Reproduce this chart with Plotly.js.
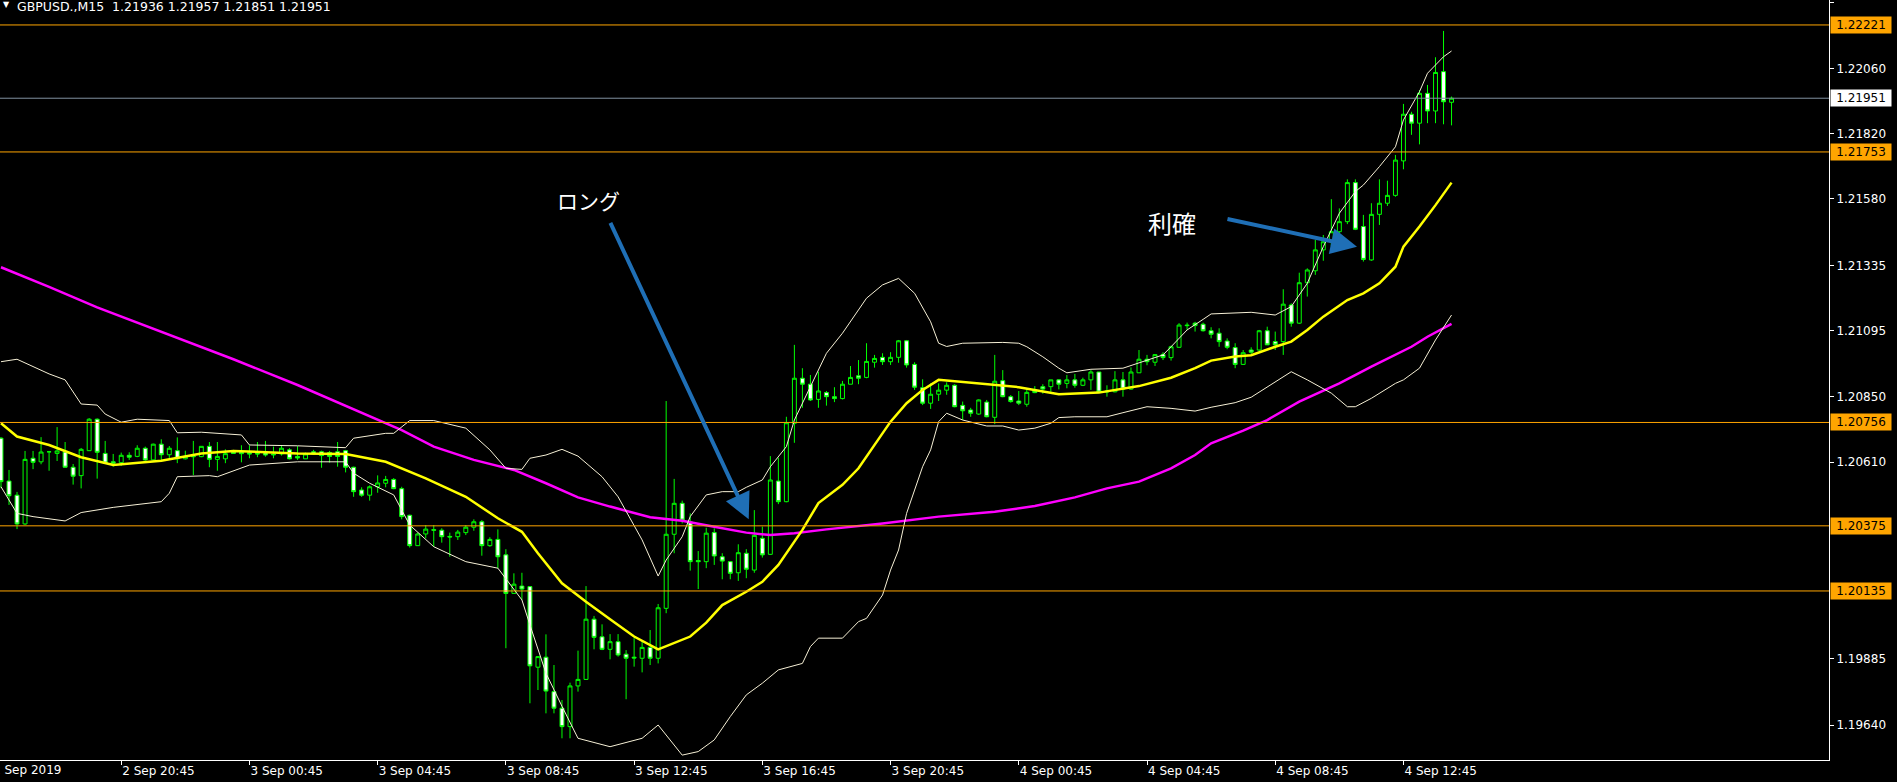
<!DOCTYPE html>
<html>
<head>
<meta charset="utf-8">
<script src="https://cdn.plot.ly/plotly-3.0.1.min.js"></script>
<style>html,body{margin:0;padding:0;background:#000;}#chart{width:1897px;height:782px;}</style>
</head>
<body>
<div id="chart"></div>
<script>
// ---- Candle data (GBPUSD M15, bar 0 = 2 Sep 17:00) ----
const open = [1.20698,1.20540,1.20488,1.20382,1.20624,1.20611,1.20648,1.20642,1.20647,1.20591,
1.20560,1.20652,1.20768,1.20642,1.20611,1.20608,1.20635,1.20631,1.20661,1.20618,
1.20676,1.20637,1.20652,1.20622,1.20632,1.20630,1.20668,1.20620,1.20622,1.20651,
1.20646,1.20644,1.20642,1.20644,1.20640,1.20640,1.20655,1.20631,1.20622,1.20648,
1.20648,1.20645,1.20648,1.20652,1.20591,1.20507,1.20488,1.20519,1.20532,1.20546,
1.20512,1.20414,1.20302,1.20345,1.20361,1.20359,1.20336,1.20335,1.20350,1.20370,
1.20390,1.20302,1.20325,1.20268,1.20126,1.20153,1.20151,1.19854,1.19891,1.19764,
1.19703,1.19635,1.19785,1.19809,1.20031,1.19966,1.19920,1.19948,1.19902,1.19891,
1.19887,1.19927,1.19887,1.20071,1.20344,1.20458,1.20390,1.20247,1.20243,1.20350,
1.20261,1.20243,1.20202,1.20274,1.20212,1.20329,1.20270,1.20540,1.20464,1.20753,
1.20919,1.20897,1.20841,1.20866,1.20851,1.20844,1.20897,1.20928,1.20922,1.20978,
1.20996,1.20980,1.20996,1.21057,1.20970,1.20884,1.20827,1.20860,1.20875,1.20893,
1.20819,1.20802,1.20787,1.20831,1.20775,1.20910,1.20851,1.20835,1.20823,1.20876,
1.20888,1.20888,1.20913,1.20900,1.20913,1.20893,1.20913,1.20942,1.20872,1.20869,
1.20913,1.20879,1.20939,1.20989,1.20978,1.21007,1.20995,1.21033,1.21115,1.21122,
1.21118,1.21094,1.21085,1.21056,1.21032,1.20970,1.21023,1.21023,1.21094,1.21054,
1.21054,1.21189,1.21122,1.21271,1.21315,1.21392,1.21422,1.21459,1.21496,1.21640,
1.21478,1.21355,1.21523,1.21564,1.21593,1.21720,1.21892,1.21859,1.21969,1.21904,
1.22049,1.21936];
const high = [1.20702,1.20581,1.20500,1.20651,1.20651,1.20702,1.20651,1.20739,1.20684,1.20603,
1.20662,1.20772,1.20771,1.20688,1.20640,1.20645,1.20646,1.20672,1.20667,1.20678,
1.20694,1.20669,1.20701,1.20652,1.20688,1.20668,1.20684,1.20684,1.20657,1.20655,
1.20672,1.20672,1.20684,1.20688,1.20667,1.20672,1.20661,1.20669,1.20645,1.20655,
1.20652,1.20651,1.20684,1.20655,1.20593,1.20517,1.20524,1.20561,1.20559,1.20551,
1.20519,1.20416,1.20350,1.20378,1.20378,1.20366,1.20350,1.20360,1.20378,1.20399,
1.20396,1.20333,1.20362,1.20289,1.20200,1.20202,1.20153,1.19895,1.19975,1.19862,
1.19733,1.19797,1.19915,1.20153,1.20043,1.20012,1.19976,1.19976,1.19917,1.19961,
1.19954,1.19991,1.20087,1.20835,1.20548,1.20468,1.20421,1.20282,1.20368,1.20366,
1.20274,1.20245,1.20307,1.20289,1.20433,1.20372,1.20632,1.20626,1.20777,1.21042,
1.20956,1.20931,1.20943,1.20872,1.20886,1.20909,1.20964,1.20986,1.21048,1.21005,
1.21011,1.21015,1.21060,1.21060,1.20978,1.20915,1.20900,1.20900,1.20904,1.20897,
1.20833,1.20810,1.20841,1.20839,1.21005,1.20949,1.20857,1.20872,1.20882,1.20890,
1.20897,1.20913,1.20915,1.20931,1.20935,1.20921,1.20949,1.20942,1.20893,1.20945,
1.20942,1.20959,1.21023,1.21005,1.21008,1.21015,1.21039,1.21122,1.21124,1.21127,
1.21124,1.21107,1.21103,1.21066,1.21048,1.21023,1.21033,1.21097,1.21109,1.21091,
1.21247,1.21195,1.21308,1.21324,1.21429,1.21447,1.21579,1.21545,1.21652,1.21652,
1.21521,1.21564,1.21652,1.21647,1.21742,1.21930,1.21901,1.21981,1.22000,1.22102,
1.22199,1.21957];
const low = [1.20514,1.20452,1.20363,1.20378,1.20584,1.20602,1.20578,1.20614,1.20591,1.20527,
1.20513,1.20652,1.20549,1.20606,1.20593,1.20596,1.20618,1.20628,1.20615,1.20615,
1.20618,1.20618,1.20606,1.20620,1.20562,1.20628,1.20591,1.20578,1.20606,1.20640,
1.20609,1.20624,1.20628,1.20630,1.20624,1.20634,1.20620,1.20618,1.20622,1.20637,
1.20589,1.20608,1.20593,1.20572,1.20482,1.20482,1.20468,1.20497,1.20517,1.20510,
1.20399,1.20295,1.20302,1.20329,1.20298,1.20313,1.20261,1.20323,1.20341,1.20357,
1.20265,1.20298,1.20219,1.19924,1.20126,1.20102,1.19721,1.19770,1.19684,1.19684,
1.19592,1.19592,1.19764,1.19807,1.19920,1.19917,1.19883,1.19893,1.19736,1.19856,
1.19835,1.19862,1.19868,1.20053,1.20274,1.20384,1.20210,1.20142,1.20219,1.20231,
1.20178,1.20178,1.20172,1.20182,1.20202,1.20258,1.20268,1.20455,1.20462,1.20681,
1.20810,1.20835,1.20810,1.20818,1.20831,1.20841,1.20897,1.20897,1.20919,1.20958,
1.20968,1.20968,1.20976,1.20958,1.20876,1.20820,1.20806,1.20835,1.20858,1.20812,
1.20765,1.20777,1.20784,1.20775,1.20750,1.20849,1.20829,1.20820,1.20814,1.20864,
1.20862,1.20869,1.20878,1.20882,1.20884,1.20890,1.20876,1.20866,1.20851,1.20867,
1.20851,1.20876,1.20939,1.20967,1.20964,1.20986,1.20984,1.21033,1.21097,1.21091,
1.21091,1.21066,1.21035,1.21026,1.20956,1.20968,1.21008,1.21020,1.21042,1.21023,
1.21005,1.21109,1.21119,1.21220,1.21300,1.21352,1.21406,1.21447,1.21487,1.21465,
1.21349,1.21352,1.21484,1.21554,1.21588,1.21689,1.21816,1.21781,1.21859,1.21859,
1.21855,1.21851];
const close = [1.20538,1.20486,1.20382,1.20620,1.20609,1.20647,1.20648,1.20651,1.20591,1.20558,
1.20657,1.20768,1.20646,1.20606,1.20606,1.20635,1.20628,1.20661,1.20618,1.20676,
1.20637,1.20661,1.20622,1.20631,1.20630,1.20668,1.20620,1.20631,1.20641,1.20642,
1.20641,1.20640,1.20640,1.20636,1.20637,1.20661,1.20622,1.20625,1.20640,1.20640,
1.20634,1.20631,1.20631,1.20591,1.20501,1.20488,1.20519,1.20533,1.20546,1.20512,
1.20409,1.20302,1.20345,1.20363,1.20359,1.20335,1.20334,1.20352,1.20370,1.20390,
1.20302,1.20325,1.20261,1.20126,1.20160,1.20142,1.19859,1.19893,1.19766,1.19703,
1.19635,1.19785,1.19809,1.20031,1.19964,1.19920,1.19948,1.19899,1.19887,1.19888,
1.19927,1.19887,1.20073,1.20344,1.20458,1.20396,1.20243,1.20243,1.20348,1.20264,
1.20245,1.20200,1.20276,1.20215,1.20340,1.20268,1.20544,1.20464,1.20755,1.20919,
1.20897,1.20839,1.20872,1.20851,1.20844,1.20897,1.20922,1.20919,1.20981,1.20992,
1.20980,1.20996,1.21057,1.20968,1.20886,1.20827,1.20860,1.20875,1.20893,1.20814,
1.20799,1.20790,1.20839,1.20777,1.20908,1.20851,1.20833,1.20827,1.20867,1.20866,
1.20879,1.20913,1.20897,1.20913,1.20893,1.20913,1.20942,1.20868,1.20869,1.20913,
1.20879,1.20942,1.20989,1.20980,1.21006,1.20995,1.21035,1.21115,1.21113,1.21113,
1.21094,1.21081,1.21054,1.21033,1.20970,1.21013,1.21015,1.21094,1.21042,1.21042,
1.21192,1.21122,1.21271,1.21318,1.21392,1.21422,1.21459,1.21496,1.21640,1.21468,
1.21357,1.21523,1.21564,1.21593,1.21723,1.21892,1.21859,1.21969,1.21904,1.22046,
1.21938,1.21951];

// ---- Indicator lines (sampled from chart, bar index / price) ----
const maMidIdx = [0,2,6,10,14,20,25,29,37,43,48,53,58,62,65,67,70,73,76,79,82,86,88,90,93,95,97,100,102,105,107,109,111,113,115,117,122,127,132,137,142,146,149,151,154,156,159,161,163,165,168,170,172,174,175,177,179,181];
const maMidVal = [1.20753,1.20704,1.20673,1.20628,1.20599,1.20615,1.20642,1.20651,1.20642,1.20640,1.20611,1.20550,1.20482,1.20403,1.20353,1.20274,1.20163,1.20095,1.20031,1.19967,1.19920,1.19967,1.20018,1.20083,1.20132,1.20169,1.20231,1.20360,1.20459,1.20526,1.20587,1.20673,1.20759,1.20827,1.20876,1.20913,1.20900,1.20886,1.20860,1.20866,1.20890,1.20921,1.20956,1.20984,1.20999,1.21004,1.21035,1.21054,1.21097,1.21146,1.21207,1.21232,1.21269,1.21330,1.21404,1.21478,1.21557,1.21640];

const maLongIdx = [0,6,12,21,29,37,44,50,54,59,64,68,72,76,81,85,89,93,96,99,103,110,117,124,129,134,138,142,146,149,151,155,158,162,167,171,176,178,181];
const maLongVal = [1.21328,1.21256,1.21180,1.21078,1.20989,1.20894,1.20805,1.20728,1.20667,1.20618,1.20581,1.20532,1.20480,1.20446,1.20407,1.20394,1.20372,1.20350,1.20341,1.20348,1.20362,1.20384,1.20409,1.20427,1.20448,1.20480,1.20513,1.20538,1.20587,1.20636,1.20679,1.20726,1.20765,1.20833,1.20900,1.20962,1.21035,1.21072,1.21119];

const bbUpIdx = [0,2,6,8,10,12,13,15,17,21,22,25,30,31,37,43,44,48,49,51,54,58,61,63,65,66,68,70,72,75,77,80,82,83,85,86,88,90,92,93,95,96,98,99,101,103,105,108,110,112,114,116,117,118,120,125,127,128,130,132,133,136,140,143,145,146,148,150,151,156,159,161,163,165,167,169,170,172,174,175,177,178,180,181];
const bbUpVal = [1.20980,1.20989,1.20935,1.20913,1.20824,1.20820,1.20787,1.20757,1.20768,1.20763,1.20718,1.20720,1.20710,1.20673,1.20670,1.20663,1.20698,1.20716,1.20716,1.20763,1.20763,1.20735,1.20655,1.20587,1.20583,1.20624,1.20636,1.20657,1.20632,1.20556,1.20482,1.20323,1.20190,1.20249,1.20335,1.20409,1.20489,1.20501,1.20501,1.20517,1.20544,1.20593,1.20667,1.20765,1.20888,1.21011,1.21085,1.21214,1.21263,1.21287,1.21232,1.21127,1.21048,1.21036,1.21048,1.21051,1.21048,1.21035,1.20998,1.20956,1.20939,1.20952,1.20956,1.20986,1.21005,1.21035,1.21097,1.21136,1.21156,1.21162,1.21152,1.21183,1.21269,1.21404,1.21527,1.21607,1.21631,1.21699,1.21772,1.21871,1.21975,1.22043,1.22104,1.22125];

const bbLoIdx = [0,1,2,4,8,10,14,20,21,22,26,27,31,37,43,44,46,49,50,51,54,58,62,65,66,68,70,72,76,80,82,84,85,87,89,91,93,95,97,100,101,102,105,107,108,110,111,112,113,114,115,116,117,118,120,123,125,127,129,131,132,134,138,140,143,146,149,151,154,156,159,161,163,166,168,169,171,174,175,177,179,181];
const bbLoVal = [1.20519,1.20470,1.20421,1.20409,1.20393,1.20424,1.20443,1.20464,1.20495,1.20556,1.20560,1.20556,1.20599,1.20611,1.20611,1.20569,1.20532,1.20489,1.20433,1.20378,1.20298,1.20243,1.20219,1.20102,1.20010,1.19832,1.19710,1.19592,1.19561,1.19592,1.19641,1.19567,1.19530,1.19543,1.19586,1.19672,1.19752,1.19795,1.19844,1.19868,1.19930,1.19961,1.19961,1.20022,1.20034,1.20120,1.20212,1.20286,1.20421,1.20507,1.20593,1.20655,1.20759,1.20790,1.20765,1.20743,1.20743,1.20728,1.20735,1.20753,1.20774,1.20777,1.20777,1.20792,1.20814,1.20808,1.20798,1.20812,1.20829,1.20849,1.20906,1.20943,1.20913,1.20864,1.20814,1.20814,1.20845,1.20900,1.20913,1.20956,1.21060,1.21152];

// ---- Axis labels / levels ----
const xTickIdx = [15,31,47,63,79,95,111,127,143,159,175];
const xTickText = ['2 Sep 20:45','3 Sep 00:45','3 Sep 04:45','3 Sep 08:45','3 Sep 12:45','3 Sep 16:45','3 Sep 20:45','4 Sep 00:45','4 Sep 04:45','4 Sep 08:45','4 Sep 12:45'];
const yTicks = [1.22305,1.22060,1.21820,1.21580,1.21335,1.21095,1.20850,1.20610,1.19885,1.19640];
const levels = [1.22221,1.21753,1.20756,1.20375,1.20135];
const bidLevel = 1.21951;
const headerText = 'GBPUSD.,M15  1.21936 1.21957 1.21851 1.21951';
const firstDateLabel = '2 Sep 2019';

const xRange = [-0.125, 228.1];
const yRange = [1.19512, 1.22313];
const barIdx = open.map((_, i) => i);
const FONT = 'DejaVu Sans, Verdana, sans-serif';

const traces = [
  {type:'scatter', mode:'lines', x:maLongIdx, y:maLongVal, line:{color:'#ff00ff', width:2.5}, hoverinfo:'skip'},
  {type:'scatter', mode:'lines', x:bbUpIdx, y:bbUpVal, line:{color:'#f6f0d6', width:1}, hoverinfo:'skip'},
  {type:'scatter', mode:'lines', x:bbLoIdx, y:bbLoVal, line:{color:'#f6f0d6', width:1}, hoverinfo:'skip'},
  {type:'scatter', mode:'lines', x:maMidIdx, y:maMidVal, line:{color:'#ffff00', width:2.5}, hoverinfo:'skip'},
  {type:'candlestick', x:barIdx, open:open, high:high, low:low, close:close,
   increasing:{line:{color:'#00ff00', width:1}, fillcolor:'#000000'},
   decreasing:{line:{color:'#00ff00', width:1}, fillcolor:'#ffffff'},
   whiskerwidth:0, hoverinfo:'skip'}
];
// horizontal level lines drawn as traces across the axis range
levels.forEach(v => traces.push({type:'scatter', mode:'lines', x:xRange, y:[v, v], line:{color:'#ffa500', width:1}, hoverinfo:'skip'}));
traces.push({type:'scatter', mode:'lines', x:xRange, y:[bidLevel, bidLevel], line:{color:'#8090a0', width:1}, hoverinfo:'skip'});

const annotations = levels.map(v => ({xref:'paper', x:1, xanchor:'left', xshift:1, yref:'y', y:v, yanchor:'middle',
  text:v.toFixed(5), showarrow:false, bgcolor:'#ffa500', font:{family:FONT, size:12, color:'#000'}, borderpad:1, width:58}));
annotations.push({xref:'paper', x:1, xanchor:'left', xshift:1, yref:'y', y:bidLevel, yanchor:'middle',
  text:bidLevel.toFixed(5), showarrow:false, bgcolor:'#ffffff', font:{family:FONT, size:12, color:'#000'}, borderpad:1, width:58});
// header
annotations.push({xref:'paper', yref:'paper', x:15/1829, y:1-7/760, xanchor:'left', yanchor:'middle', text:headerText, showarrow:false, font:{family:FONT, size:12.5, color:'#ffffff'}});
annotations.push({xref:'paper', yref:'paper', x:1/1829, y:1-5/760, xanchor:'left', yanchor:'middle', text:'▼', showarrow:false, font:{family:FONT, size:8, color:'#ffffff'}});
// first date label (cut at left edge, as in the original)
annotations.push({xref:'paper', yref:'paper', x:-9/1829, y:0, yshift:-10, xanchor:'left', yanchor:'middle', text:firstDateLabel, showarrow:false, font:{family:FONT, size:12, color:'#ffffff'}});
// Japanese labels
annotations.push({xref:'paper', yref:'paper', x:588/1829, y:1-200/760, xanchor:'center', yanchor:'middle', text:'ロング', showarrow:false, font:{family:'Noto Sans CJK JP', size:21, color:'#ffffff'}});
annotations.push({xref:'paper', yref:'paper', x:1172/1829, y:1-222/760, xanchor:'center', yanchor:'middle', text:'利確', showarrow:false, font:{family:'Noto Sans CJK JP', size:24, color:'#ffffff'}});
// arrows
annotations.push({x:93.3, y:1.20399, xref:'x', yref:'y', ax:-139, ay:-298, text:'', showarrow:true, arrowhead:2, arrowsize:1.3, arrowwidth:4, arrowcolor:'#1f6fb6', standoff:0});
annotations.push({x:169.2, y:1.21404, xref:'x', yref:'y', ax:-131, ay:-28, text:'', showarrow:true, arrowhead:2, arrowsize:1.3, arrowwidth:4, arrowcolor:'#1f6fb6', standoff:0});

const layout = {
  width:1897, height:782,
  paper_bgcolor:'#000000', plot_bgcolor:'#000000',
  margin:{l:0, r:68, t:0, b:22, pad:0},
  showlegend:false,
  hovermode:false,
  xaxis:{range:xRange, type:'linear', showgrid:false, zeroline:false, showline:true, linecolor:'#ffffff', linewidth:1,
    ticks:'outside', ticklen:4, tickcolor:'#ffffff', tickmode:'array', tickvals:xTickIdx, ticktext:xTickText,
    ticklabelposition:'outside right', tickfont:{family:FONT, size:12, color:'#ffffff'},
    rangeslider:{visible:false}, fixedrange:true},
  yaxis:{side:'right', range:yRange, showgrid:false, zeroline:false, showline:true, linecolor:'#ffffff', linewidth:1,
    ticks:'outside', ticklen:4, tickcolor:'#ffffff', tickmode:'array', tickvals:yTicks, tickformat:'.5f',
    tickfont:{family:FONT, size:12, color:'#ffffff'}, fixedrange:true},
  annotations:annotations
};

Plotly.newPlot('chart', traces, layout, {displayModeBar:false, staticPlot:true});
</script>
</body>
</html>
